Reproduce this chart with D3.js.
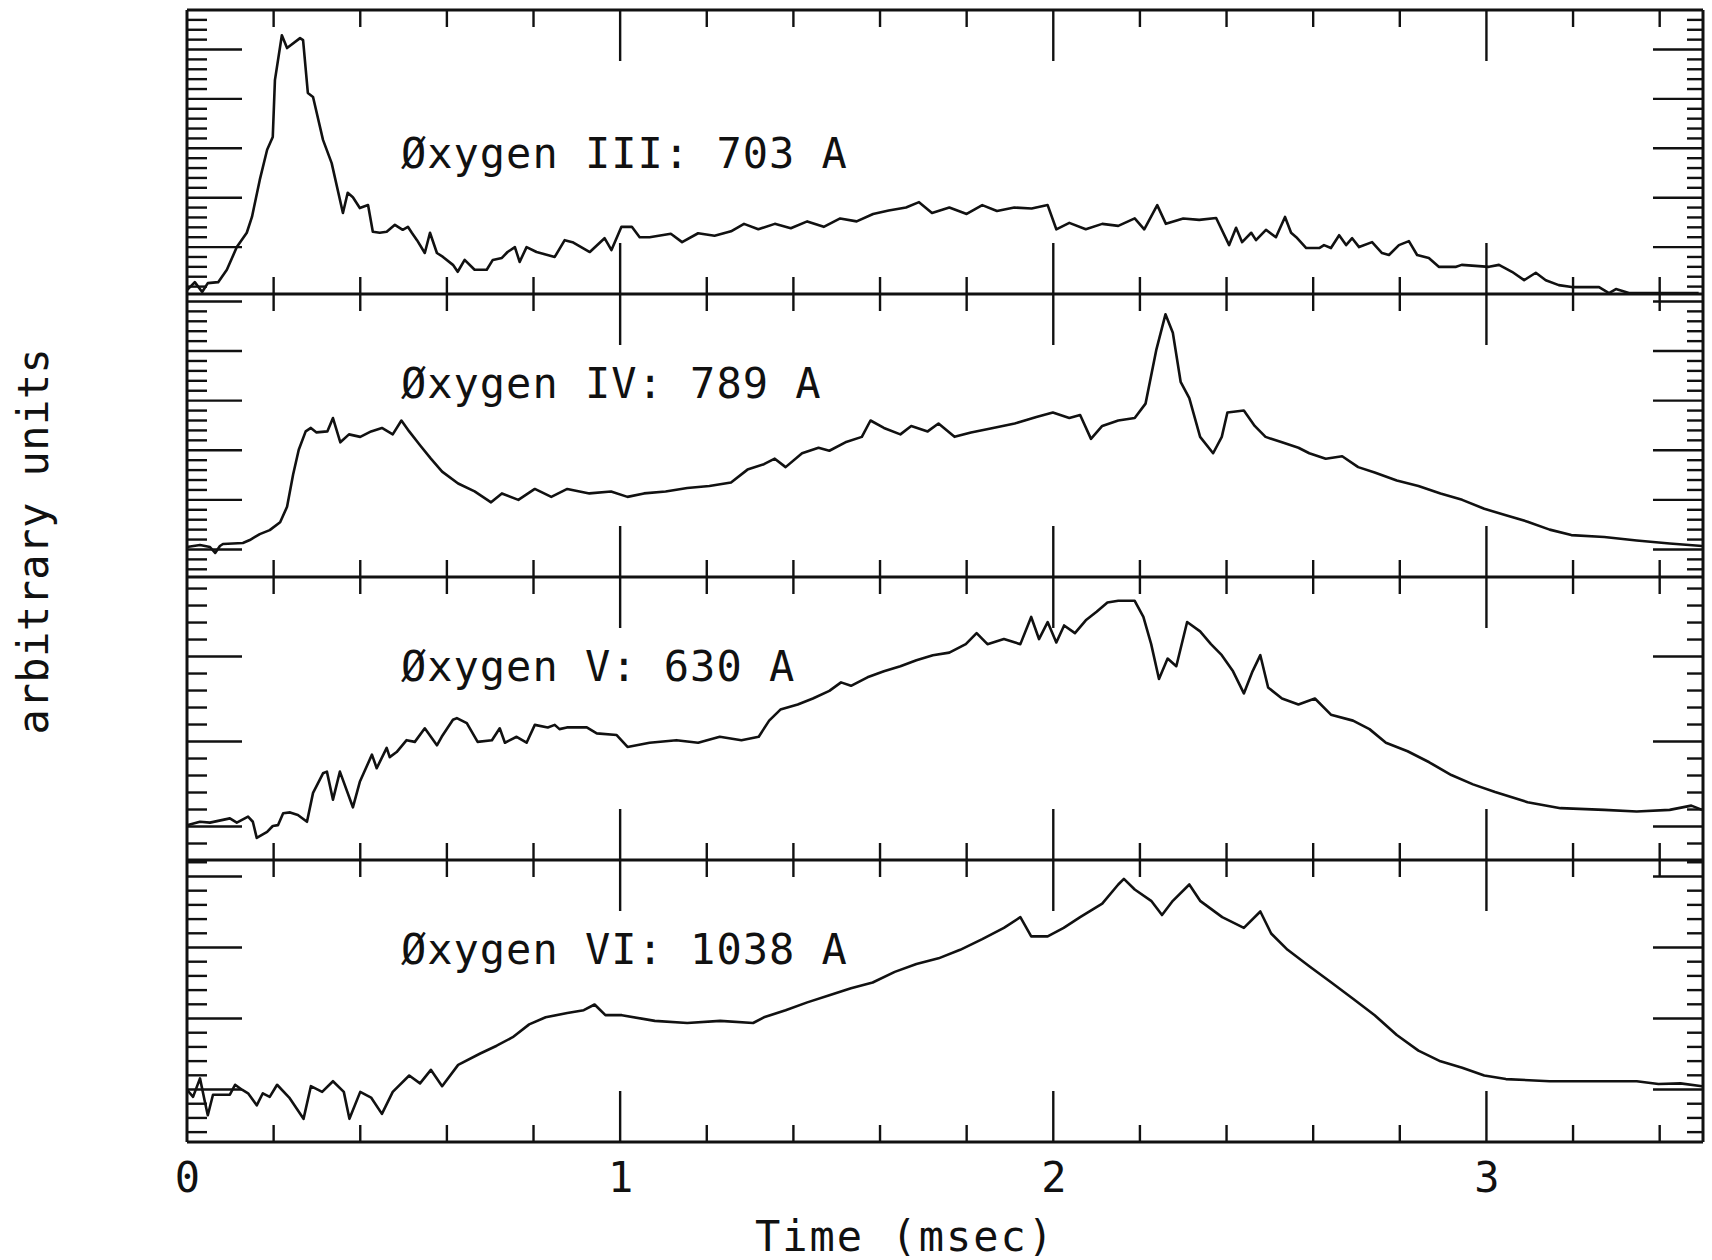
<!DOCTYPE html>
<html>
<head>
<meta charset="utf-8">
<script src="https://cdn.jsdelivr.net/npm/d3@7"></script>
<style>
  body { margin: 0; background: #fff; }
  text { font-family: "DejaVu Sans Mono", monospace; fill: #111; }
</style>
</head>
<body>
<div class="chart"></div>
<script>
var w = 1712;
var h = 1260;
var plotLeft = 187;
var plotRight = 1703;
var panelEdges = [10, 294, 577, 860, 1142];

// time axis (ms)
var timeMax = 3.5;
var timeLabels = [0, 1, 2, 3];
var timeMinor = d3.range(0.2, 3.45, 0.2);

var panelNames = ["Øxygen III: 703 A", "Øxygen IV: 789 A", "Øxygen V: 630 A", "Øxygen VI: 1038 A"];
// y range of every panel, arbitrary units (major tick = 1, minor = 0.2)
var panelDomains = [[0.04, 5.79], [-0.565, 5.14], [-0.4, 2.93], [-0.746, 3.225]];

// [time ms, intensity]
var oxygen3 = [[0,0.12],[0.018,0.28],[0.035,0.08],[0.048,0.26],[0.072,0.28],[0.092,0.53],[0.115,0.99],[0.138,1.28],[0.150,1.60],[0.168,2.35],[0.185,2.96],[0.198,3.22],[0.203,4.37],[0.219,5.28],[0.231,5.02],[0.261,5.22],[0.268,5.18],[0.279,4.11],[0.291,4.03],[0.314,3.16],[0.334,2.69],[0.360,1.68],[0.371,2.09],[0.383,2.00],[0.399,1.78],[0.418,1.84],[0.429,1.30],[0.445,1.28],[0.461,1.30],[0.480,1.44],[0.498,1.34],[0.510,1.40],[0.519,1.28],[0.531,1.13],[0.549,0.87],[0.561,1.28],[0.577,0.87],[0.591,0.79],[0.614,0.63],[0.625,0.49],[0.641,0.73],[0.664,0.53],[0.692,0.53],[0.706,0.73],[0.727,0.77],[0.740,0.89],[0.757,0.99],[0.768,0.69],[0.784,0.99],[0.807,0.89],[0.849,0.79],[0.872,1.13],[0.890,1.09],[0.930,0.89],[0.964,1.17],[0.980,0.93],[1.003,1.40],[1.027,1.40],[1.045,1.19],[1.068,1.19],[1.117,1.26],[1.143,1.09],[1.18,1.27],[1.218,1.22],[1.256,1.31],[1.286,1.46],[1.319,1.35],[1.357,1.46],[1.394,1.37],[1.432,1.51],[1.47,1.40],[1.508,1.57],[1.546,1.51],[1.584,1.66],[1.62,1.73],[1.66,1.79],[1.69,1.90],[1.72,1.68],[1.76,1.79],[1.80,1.66],[1.836,1.84],[1.87,1.72],[1.91,1.79],[1.95,1.77],[1.987,1.84],[2.007,1.35],[2.037,1.48],[2.075,1.35],[2.113,1.46],[2.15,1.42],[2.188,1.57],[2.21,1.35],[2.24,1.84],[2.26,1.46],[2.30,1.57],[2.337,1.54],[2.376,1.58],[2.406,1.03],[2.422,1.38],[2.436,1.09],[2.457,1.28],[2.468,1.13],[2.491,1.34],[2.514,1.19],[2.535,1.60],[2.549,1.28],[2.561,1.19],[2.584,0.97],[2.614,0.97],[2.625,1.03],[2.641,0.97],[2.660,1.23],[2.676,1.03],[2.690,1.17],[2.706,0.99],[2.736,1.09],[2.759,0.87],[2.775,0.83],[2.798,1.03],[2.821,1.11],[2.840,0.83],[2.867,0.77],[2.890,0.59],[2.930,0.59],[2.943,0.63],[3.006,0.59],[3.029,0.63],[3.059,0.49],[3.087,0.32],[3.114,0.47],[3.137,0.32],[3.167,0.22],[3.197,0.18],[3.260,0.18],[3.283,0.06],[3.299,0.14],[3.329,0.06],[3.382,0.06],[3.444,0.06],[3.490,0.06]];

var oxygen4 = [[0,0.04],[0.030,0.08],[0.053,0.04],[0.065,-0.08],[0.076,0.06],[0.083,0.10],[0.129,0.12],[0.145,0.18],[0.168,0.30],[0.191,0.38],[0.215,0.54],[0.231,0.85],[0.245,1.50],[0.258,2.00],[0.274,2.37],[0.286,2.44],[0.299,2.35],[0.324,2.37],[0.337,2.64],[0.354,2.15],[0.374,2.31],[0.400,2.26],[0.425,2.37],[0.450,2.44],[0.475,2.31],[0.495,2.59],[0.513,2.37],[0.538,2.09],[0.563,1.82],[0.589,1.56],[0.626,1.32],[0.664,1.16],[0.702,0.94],[0.727,1.12],[0.765,0.99],[0.803,1.21],[0.841,1.05],[0.878,1.21],[0.929,1.12],[0.979,1.16],[1.017,1.05],[1.055,1.12],[1.105,1.16],[1.155,1.23],[1.206,1.27],[1.256,1.34],[1.294,1.60],[1.332,1.71],[1.357,1.82],[1.382,1.65],[1.420,1.93],[1.458,2.04],[1.483,1.98],[1.520,2.15],[1.558,2.26],[1.578,2.59],[1.609,2.44],[1.647,2.31],[1.672,2.48],[1.710,2.37],[1.735,2.53],[1.772,2.26],[1.810,2.35],[1.861,2.44],[1.911,2.53],[1.961,2.66],[1.999,2.75],[2.037,2.64],[2.062,2.70],[2.087,2.22],[2.113,2.48],[2.150,2.59],[2.188,2.64],[2.213,2.93],[2.238,4.02],[2.259,4.73],[2.276,4.36],[2.294,3.37],[2.314,3.04],[2.339,2.26],[2.369,1.93],[2.389,2.26],[2.402,2.75],[2.440,2.79],[2.465,2.48],[2.490,2.26],[2.528,2.15],[2.566,2.04],[2.591,1.93],[2.629,1.82],[2.667,1.87],[2.704,1.65],[2.742,1.54],[2.793,1.38],[2.843,1.27],[2.894,1.12],[2.944,0.99],[2.995,0.81],[3.045,0.68],[3.095,0.55],[3.146,0.39],[3.196,0.28],[3.272,0.24],[3.347,0.17],[3.423,0.11],[3.498,0.06]];

var oxygen5 = [[0,0.01],[0.030,0.05],[0.053,0.04],[0.099,0.09],[0.115,0.04],[0.141,0.11],[0.152,0.05],[0.161,-0.14],[0.185,-0.07],[0.198,0],[0.210,0.01],[0.222,0.15],[0.238,0.16],[0.256,0.13],[0.277,0.05],[0.291,0.39],[0.314,0.62],[0.323,0.64],[0.337,0.31],[0.353,0.64],[0.383,0.22],[0.399,0.52],[0.427,0.84],[0.438,0.68],[0.461,0.92],[0.468,0.81],[0.484,0.87],[0.507,1.01],[0.526,0.99],[0.549,1.15],[0.577,0.95],[0.588,1.05],[0.614,1.25],[0.623,1.27],[0.646,1.21],[0.671,0.99],[0.704,1.01],[0.722,1.15],[0.734,0.98],[0.761,1.05],[0.784,0.98],[0.803,1.19],[0.833,1.16],[0.849,1.19],[0.860,1.14],[0.877,1.16],[0.923,1.16],[0.946,1.09],[0.992,1.07],[1.017,0.93],[1.068,0.98],[1.13,1.01],[1.18,0.98],[1.23,1.05],[1.28,1.01],[1.32,1.05],[1.344,1.24],[1.37,1.37],[1.41,1.43],[1.445,1.50],[1.483,1.59],[1.51,1.69],[1.533,1.65],[1.571,1.75],[1.609,1.82],[1.647,1.88],[1.684,1.95],[1.722,2.01],[1.76,2.04],[1.798,2.14],[1.823,2.27],[1.848,2.14],[1.886,2.20],[1.924,2.14],[1.949,2.46],[1.967,2.20],[1.987,2.40],[2.007,2.16],[2.025,2.36],[2.05,2.27],[2.075,2.42],[2.10,2.52],[2.125,2.63],[2.15,2.65],[2.188,2.65],[2.208,2.46],[2.226,2.14],[2.244,1.73],[2.264,1.97],[2.284,1.88],[2.309,2.40],[2.339,2.29],[2.364,2.14],[2.389,2.01],[2.415,1.82],[2.440,1.56],[2.460,1.82],[2.478,2.01],[2.496,1.63],[2.528,1.50],[2.566,1.43],[2.604,1.50],[2.641,1.31],[2.692,1.24],[2.73,1.14],[2.768,0.98],[2.818,0.88],[2.868,0.75],[2.919,0.60],[2.969,0.49],[3.02,0.40],[3.095,0.28],[3.171,0.21],[3.272,0.19],[3.347,0.17],[3.423,0.19],[3.473,0.24],[3.498,0.19]];

var oxygen6 = [[0,-0.01],[0.014,-0.11],[0.030,0.15],[0.042,-0.20],[0.048,-0.37],[0.060,-0.08],[0.099,-0.08],[0.111,0.06],[0.127,-0.01],[0.141,-0.06],[0.161,-0.23],[0.175,-0.06],[0.191,-0.11],[0.208,0.06],[0.236,-0.12],[0.269,-0.42],[0.286,0.04],[0.312,-0.04],[0.337,0.11],[0.362,-0.04],[0.375,-0.42],[0.400,-0.04],[0.425,-0.12],[0.450,-0.35],[0.475,-0.04],[0.513,0.19],[0.538,0.08],[0.563,0.27],[0.589,0.04],[0.626,0.34],[0.677,0.50],[0.715,0.61],[0.752,0.73],[0.790,0.91],[0.828,1.01],[0.878,1.07],[0.916,1.11],[0.941,1.19],[0.966,1.04],[1.004,1.04],[1.080,0.96],[1.155,0.93],[1.231,0.96],[1.307,0.93],[1.332,1.01],[1.382,1.11],[1.432,1.22],[1.483,1.32],[1.533,1.42],[1.583,1.50],[1.634,1.65],[1.684,1.76],[1.735,1.84],[1.785,1.96],[1.836,2.11],[1.886,2.27],[1.924,2.42],[1.949,2.15],[1.987,2.15],[2.024,2.27],[2.062,2.42],[2.113,2.61],[2.150,2.88],[2.163,2.96],[2.188,2.81],[2.226,2.65],[2.251,2.45],[2.276,2.65],[2.314,2.88],[2.339,2.65],[2.390,2.42],[2.440,2.27],[2.478,2.50],[2.503,2.19],[2.541,1.96],[2.591,1.73],[2.642,1.50],[2.692,1.27],[2.742,1.04],[2.793,0.76],[2.843,0.54],[2.894,0.39],[2.944,0.30],[2.995,0.19],[3.045,0.14],[3.146,0.11],[3.247,0.11],[3.347,0.11],[3.397,0.07],[3.448,0.08],[3.498,0.04]];

var series = [oxygen3, oxygen4, oxygen5, oxygen6];

var isMajor = function(d) { return Math.abs(d - Math.round(d)) < 1e-6; };

var svg = d3.select(".chart").append("svg")
            .attr("width", w)
            .attr("height", h);

var xScale = d3.scaleLinear()
               .domain([0, timeMax])
               .range([plotLeft, plotRight]);

var stroke = "#111";
var lw = 2.6;

// one panel per ion: y ticks both sides, trace and name
series.forEach(function(data, i) {
  var top = panelEdges[i], bottom = panelEdges[i + 1];
  var yScale = d3.scaleLinear()
                 .domain(panelDomains[i])
                 .range([bottom, top]);

  var lo = Math.ceil(panelDomains[i][0] / 0.2) * 0.2;
  var yTicks = d3.range(lo, panelDomains[i][1], 0.2).map(function(d) { return Math.round(d * 10) / 10; });
  var yMajor = yTicks.filter(isMajor);
  var yMinor = yTicks.filter(function(d) { return !isMajor(d); });

  var g = svg.append("g").attr("class", "panel");

  var ax = [
    [d3.axisRight(yScale).tickValues(yMinor).tickSize(20), plotLeft],
    [d3.axisRight(yScale).tickValues(yMajor).tickSize(55), plotLeft],
    [d3.axisLeft(yScale).tickValues(yMinor).tickSize(16), plotRight],
    [d3.axisLeft(yScale).tickValues(yMajor).tickSize(50), plotRight]
  ];
  ax.forEach(function(a) {
    var ga = g.append("g")
              .attr("transform", "translate(" + a[1] + ",0)")
              .call(a[0].tickFormat(""));
    ga.select(".domain").remove();
    ga.selectAll(".tick line").attr("stroke", stroke).attr("stroke-width", 2.4);
  });

  // the trace
  g.append("path")
   .datum(data)
   .attr("fill", "none")
   .attr("stroke", stroke)
   .attr("stroke-width", lw)
   .attr("stroke-linejoin", "round")
   .attr("d", d3.line()
                .x(function(d) { return xScale(d[0]); })
                .y(function(d) { return yScale(d[1]); }));

  g.append("text")
   .attr("x", xScale(0.494))
   .attr("y", top + (i == 0 ? 158 : 104))
   .style("font-size", "42px")
   .style("letter-spacing", "1px")
   .text(panelNames[i]);
});

// time ticks on every horizontal edge
panelEdges.forEach(function(y, k) {
  var up = (k == 0) ? 0 : 1;
  var down = (k == panelEdges.length - 1) ? 0 : 1;
  var gx = svg.append("g").attr("transform", "translate(0," + y + ")");
  gx.selectAll("line.minor")
    .data(timeMinor.filter(function(d) { return !isMajor(d); }))
    .enter().append("line")
    .attr("x1", function(d) { return xScale(d); })
    .attr("x2", function(d) { return xScale(d); })
    .attr("y1", -17 * up)
    .attr("y2", 17 * down)
    .attr("stroke", stroke)
    .attr("stroke-width", 2.4);
  gx.selectAll("line.major")
    .data(timeLabels.filter(function(d) { return d > 0; }))
    .enter().append("line")
    .attr("x1", function(d) { return xScale(d); })
    .attr("x2", function(d) { return xScale(d); })
    .attr("y1", -51 * up)
    .attr("y2", 51 * down)
    .attr("stroke", stroke)
    .attr("stroke-width", 2.4);
  gx.append("line")
    .attr("x1", plotLeft).attr("x2", plotRight)
    .attr("y1", 0).attr("y2", 0)
    .attr("stroke", stroke)
    .attr("stroke-width", 2.8);
});

// frame sides
[plotLeft, plotRight].forEach(function(x) {
  svg.append("line")
     .attr("x1", x).attr("x2", x)
     .attr("y1", panelEdges[0]).attr("y2", panelEdges[4])
     .attr("stroke", stroke)
     .attr("stroke-width", 3);
});

// tick labels
var xAxis = svg.append("g")
               .attr("transform", "translate(0," + panelEdges[4] + ")")
               .call(d3.axisBottom(xScale).tickValues(timeLabels).tickFormat(d3.format("d")).tickSize(0).tickPadding(20));
xAxis.select(".domain").remove();
xAxis.selectAll("text")
     .attr("font-family", null)
     .attr("font-size", null)
     .style("font-size", "42px");

svg.append("text")
   .attr("x", 905)
   .attr("y", 1251)
   .attr("text-anchor", "middle")
   .style("font-size", "42px")
   .style("letter-spacing", "2px")
   .text("Time (msec)");

svg.append("text")
   .attr("transform", "translate(48,541) rotate(-90)")
   .attr("text-anchor", "middle")
   .style("font-size", "42px")
   .style("letter-spacing", "0.5px")
   .text("arbitrary units");
</script>
</body>
</html>
